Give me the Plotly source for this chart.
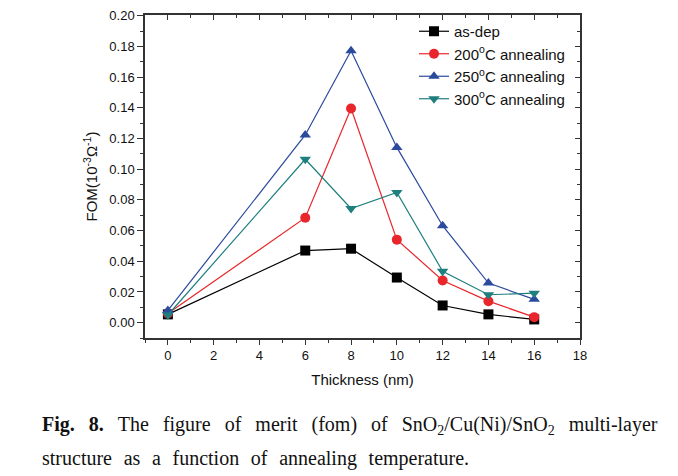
import plotly.graph_objects as go

thickness = [0, 6, 8, 10, 12, 14, 16]
as_dep = [0.0054, 0.047, 0.0482, 0.0294, 0.0112, 0.0054, 0.0021]
ann_200 = [0.006, 0.0684, 0.1396, 0.0541, 0.0275, 0.014, 0.0036]
ann_250 = [0.008, 0.1223, 0.1772, 0.1142, 0.0632, 0.0258, 0.0152]
ann_300 = [0.005, 0.1065, 0.0744, 0.0848, 0.0335, 0.0182, 0.0192]
x_ticks = [0, 2, 4, 6, 8, 10, 12, 14, 16, 18]
y_ticks = [0.00, 0.02, 0.04, 0.06, 0.08, 0.10, 0.12, 0.14, 0.16, 0.18, 0.20]

series = [
    ("as-dep", as_dep, "#000000", "square"),
    ("200<sup>o</sup>C annealing", ann_200, "#e8262b", "circle"),
    ("250<sup>o</sup>C annealing", ann_250, "#2b4a9e", "triangle-up"),
    ("300<sup>o</sup>C annealing", ann_300, "#1f7f7f", "triangle-down"),
]

fig = go.Figure()
for i, (name, ys, color, sym) in enumerate(series):
    fig.add_trace(go.Scatter(
        x=thickness, y=ys, name=name, mode="lines+markers",
        line=dict(color=color, width=1.2),
        marker=dict(symbol=sym, size=10, color=color, line=dict(width=0)),
    ))

font_sans = "Liberation Sans, Arial, sans-serif"
axis_color = "#333333"
OFF = 8  # page body margin offset
FW, FH = 678 - OFF, 476 - OFF
L, R, T, B = 145 - OFF, 580 - OFF, 15 - OFF, 338 - OFF
W, H = R - L, B - T
XR = [-1, 18]
YR = [-0.01, 0.2005]

fig.update_layout(
    width=FW, height=FH,
    margin=dict(l=L, r=FW - R, t=T, b=FH - B, autoexpand=False),
    paper_bgcolor="white", plot_bgcolor="white",
    font=dict(family=font_sans, size=13, color="#111111"),
    showlegend=True,
    legend=dict(x=(414 - OFF - L) / W, y=1.0, xanchor="left", yanchor="top",
                bgcolor="rgba(0,0,0,0)", font=dict(size=15),
                itemwidth=30, tracegroupgap=0),
    xaxis=dict(range=XR, tickvals=x_ticks, automargin=False,
               ticks="outside", ticklen=5, tickcolor=axis_color,
               minor=dict(ticks="outside", ticklen=3, dtick=1, tick0=0, tickcolor=axis_color),
               showline=True, mirror=True, linecolor=axis_color, linewidth=1.5,
               showgrid=False, zeroline=False,
               title=dict(text="Thickness (nm)", font=dict(size=15), standoff=12),
               tickfont=dict(size=13)),
    yaxis=dict(range=YR, tickvals=y_ticks, automargin=False,
               tickformat=".2f",
               ticks="outside", ticklen=6, tickcolor=axis_color,
               minor=dict(ticks="outside", ticklen=3, dtick=0.01, tick0=0, tickcolor=axis_color),
               showline=True, mirror=True, linecolor=axis_color, linewidth=1.5,
               showgrid=False, zeroline=False,
               title=dict(text="FOM(10<sup>-3</sup>Ω<sup>-1</sup>)", font=dict(size=15), standoff=8),
               tickfont=dict(size=13)),
    xaxis2=dict(overlaying="x", side="top", range=XR, tickvals=x_ticks,
                ticks="inside", ticklen=5, tickcolor=axis_color, showticklabels=False, automargin=False,
                minor=dict(ticks="inside", ticklen=3, dtick=1, tick0=0, tickcolor=axis_color),
                showline=False, showgrid=False, zeroline=False),
    yaxis2=dict(overlaying="y", side="right", range=YR, tickvals=y_ticks,
                ticks="inside", ticklen=5, tickcolor=axis_color, showticklabels=False, automargin=False,
                minor=dict(ticks="inside", ticklen=3, dtick=0.01, tick0=0, tickcolor=axis_color),
                showline=False, showgrid=False, zeroline=False),
)
fig.add_trace(go.Scatter(x=[None], y=[None], xaxis="x2", yaxis="y2", showlegend=False, hoverinfo="skip"))

serif = "Liberation Serif, Times New Roman, serif"
gap1 = "\u2002\u2009"
gap2 = "\u2002\u200a"
line1_words = ["<b>Fig.</b>", "<b>8.</b>", "The", "figure", "of", "merit", "(fom)", "of",
               "SnO<sub>2</sub>/Cu(Ni)/SnO<sub>2</sub>", "multi-layer"]
line2_words = ["structure", "as", "a", "function", "of", "annealing", "temperature."]

fig.add_annotation(xref="paper", yref="paper", x=(40 - OFF - L) / W, y=-(425 - OFF - B) / H,
                   xanchor="left", yanchor="middle", showarrow=False,
                   text=gap1.join(line1_words),
                   font=dict(family=serif, size=20, color="#111111"))
fig.add_annotation(xref="paper", yref="paper", x=(40 - OFF - L) / W, y=-(459 - OFF - B) / H,
                   xanchor="left", yanchor="middle", showarrow=False,
                   text=gap2.join(line2_words),
                   font=dict(family=serif, size=20, color="#111111"))

fig.write_html("out.html")
